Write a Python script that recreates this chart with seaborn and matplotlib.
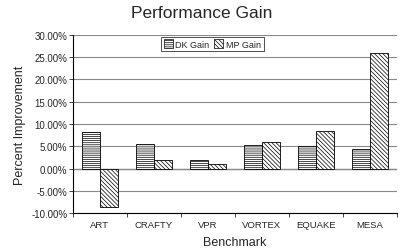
import matplotlib
matplotlib.use("Agg")
import matplotlib.pyplot as plt
import seaborn as sns
import pandas as pd
import numpy as np
from matplotlib.ticker import FuncFormatter, FixedLocator
from matplotlib.patches import Patch

benchmarks = ["ART", "CRAFTY", "VPR", "VORTEX", "EQUAKE", "MESA"]
dk_gain = [8.1, 5.5, 1.9, 5.3, 5.0, 4.4]
mp_gain = [-8.7, 1.9, 1.1, 5.9, 8.4, 26.0]
series = ["DK Gain", "MP Gain"]

df = pd.DataFrame({
    "Benchmark": benchmarks * 2,
    "Gain": dk_gain + mp_gain,
    "Series": [series[0]] * len(benchmarks) + [series[1]] * len(benchmarks),
})

sns.set_style("white")
plt.rcParams["font.family"] = ["Liberation Sans", "DejaVu Sans"]
plt.rcParams["hatch.linewidth"] = 0.5

fig = plt.figure(figsize=(4.03, 2.53), dpi=100)
ax = fig.add_axes([0.181, 0.154, 0.804, 0.704])

sns.barplot(data=df, x="Benchmark", y="Gain", hue="Series", ax=ax,
            palette=["white", "white"], edgecolor="black", linewidth=0.6,
            width=0.67, saturation=1, legend=False)

hatches = ["--------", "\\\\\\\\\\\\\\\\"]
for cont, h in zip(ax.containers, hatches):
    for p in cont:
        p.set_hatch(h)

ax.set_ylim(-10, 30)
ax.set_xlim(-0.5, len(benchmarks) - 0.5)
ax.set_yticks(np.arange(-10, 31, 5))
ax.yaxis.set_major_formatter(FuncFormatter(lambda v, _: f"{v:.2f}%"))
ax.grid(axis="y", color="#888888", linewidth=0.8)
ax.set_axisbelow(True)
ax.axhline(0, color="#555555", linewidth=0.9, zorder=0.5)

for s in ["top", "right"]:
    ax.spines[s].set_visible(False)
ax.spines["left"].set_color("black")
ax.spines["left"].set_linewidth(0.8)
ax.spines["bottom"].set_color("black")
ax.spines["bottom"].set_linewidth(0.8)

ax.tick_params(axis="y", labelsize=7, length=3, width=0.6, direction="out", left=True, pad=1)
ax.tick_params(axis="x", which="major", labelsize=6.8, length=0, pad=5)
ax.xaxis.set_minor_locator(FixedLocator(np.arange(-0.5, len(benchmarks), 1.0)))
ax.tick_params(axis="x", which="minor", length=3, width=0.6, direction="out", bottom=True)

ax.set_xlabel("Benchmark", fontsize=9, labelpad=5)
ax.set_ylabel("Percent Improvement", fontsize=9, labelpad=4)
fig.suptitle("Performance Gain", fontsize=12.5, y=0.975)

handles = [Patch(facecolor="white", edgecolor="black", hatch=h, linewidth=0.5) for h in hatches]
leg = ax.legend(handles, series, loc="upper center", bbox_to_anchor=(0.43, 1.0), ncol=2,
                fontsize=6.5, frameon=True, fancybox=False, edgecolor="black",
                handlelength=1.0, handleheight=1.0, handletextpad=0.3, columnspacing=0.5,
                borderpad=0.3, borderaxespad=0.2)
leg.get_frame().set_linewidth(0.6)

fig.savefig("out.png", dpi=100)
